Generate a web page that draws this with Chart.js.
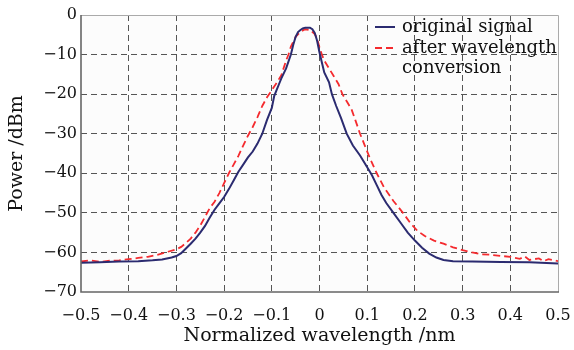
<!DOCTYPE html>
<html>
<head>
<meta charset="utf-8">
<script src="https://cdn.jsdelivr.net/npm/chart.js@4"></script>
<style>
  html, body { margin: 0; padding: 0; background: #fff; }
</style>
</head>
<body>
<canvas id="chart" width="574" height="350"></canvas>
<script>
// axis ticks
const xTicks = [-0.5, -0.4, -0.3, -0.2, -0.1, 0, 0.1, 0.2, 0.3, 0.4, 0.5];
const xTickLabels = ['\u22120.5', '\u22120.4', '\u22120.3', '\u22120.2', '\u22120.1', '0', '0.1', '0.2', '0.3', '0.4', '0.5'];
const yTicks = [0, -10, -20, -30, -40, -50, -60, -70];
const yTickLabels = ['0', '\u221210', '\u221220', '\u221230', '\u221240', '\u221250', '\u221260', '\u221270'];

const seriesLabels = ['original signal', ['after wavelength', 'conversion']];

// original signal
const origX = [-0.50, -0.46, -0.42, -0.38, -0.35, -0.33, -0.31, -0.30, -0.29, -0.28, -0.27, -0.26, -0.25, -0.24, -0.23, -0.22, -0.21, -0.20, -0.19, -0.18, -0.17, -0.16, -0.15, -0.14, -0.13, -0.12, -0.11, -0.10, -0.095, -0.09, -0.085, -0.08, -0.07, -0.06, -0.055, -0.05, -0.045, -0.04, -0.035, -0.03, -0.02, -0.015, -0.01, -0.005, 0.0, 0.005, 0.01, 0.02, 0.026, 0.035, 0.045, 0.057, 0.07, 0.085, 0.10, 0.11, 0.12, 0.13, 0.14, 0.155, 0.17, 0.185, 0.20, 0.215, 0.23, 0.245, 0.26, 0.28, 0.32, 0.38, 0.44, 0.50];
const origY = [-62.6, -62.5, -62.3, -62.2, -62.0, -61.8, -61.3, -60.9, -60.2, -59.0, -57.8, -56.5, -55.0, -53.3, -51.2, -49.2, -47.6, -46.0, -44.0, -41.8, -39.6, -37.8, -36.0, -34.5, -32.5, -30.0, -26.5, -23.5, -20.5, -19.0, -17.5, -16.0, -13.5, -10.0, -7.5, -5.5, -4.3, -3.8, -3.4, -3.2, -3.2, -3.6, -4.5, -6.5, -9.5, -12.0, -14.5, -17.0, -20.0, -23.0, -26.0, -30.0, -33.0, -35.5, -38.5, -40.5, -43.0, -45.5, -47.5, -50.0, -52.5, -55.0, -57.0, -58.8, -60.3, -61.3, -61.9, -62.2, -62.3, -62.4, -62.5, -62.8];

// after wavelength conversion
const convX = [-0.50, -0.48, -0.46, -0.44, -0.42, -0.40, -0.38, -0.36, -0.34, -0.32, -0.30, -0.29, -0.28, -0.27, -0.26, -0.25, -0.24, -0.23, -0.22, -0.21, -0.20, -0.19, -0.18, -0.17, -0.16, -0.15, -0.14, -0.13, -0.12, -0.11, -0.10, -0.09, -0.08, -0.07, -0.065, -0.06, -0.05, -0.04, -0.03, -0.02, -0.01, -0.005, 0.0, 0.005, 0.01, 0.02, 0.03, 0.04, 0.048, 0.058, 0.067, 0.075, 0.085, 0.095, 0.105, 0.12, 0.135, 0.155, 0.175, 0.19, 0.205, 0.22, 0.24, 0.26, 0.28, 0.30, 0.32, 0.34, 0.36, 0.38, 0.40, 0.42, 0.43, 0.44, 0.46, 0.47, 0.48, 0.50];
const convY = [-62.3, -62.0, -62.4, -62.1, -62.0, -61.7, -61.4, -61.1, -60.6, -59.9, -59.2, -58.6, -57.6, -56.5, -55.0, -53.2, -51.0, -48.8, -47.2, -45.0, -42.5, -40.0, -37.8, -35.6, -33.0, -30.5, -28.3, -25.8, -23.0, -20.8, -19.0, -17.2, -15.2, -11.5, -10.0, -8.0, -5.5, -4.2, -3.6, -3.8, -4.8, -6.0, -8.2, -10.0, -11.5, -13.5, -15.5, -17.5, -20.0, -22.0, -23.8, -26.5, -30.0, -33.0, -36.0, -40.0, -43.5, -47.0, -50.0, -52.5, -54.5, -55.8, -57.0, -57.8, -58.7, -59.4, -60.0, -60.5, -60.6, -60.9, -61.1, -61.6, -61.0, -61.9, -61.5, -62.2, -61.7, -62.2];

const toPoints = (xs, ys) => xs.map((x, i) => ({ x: x, y: ys[i] }));

const serif = 'DejaVu Serif';
const gridColor = (ctx) => {
  const v = ctx.tick && ctx.tick.value;
  const s = ctx.scale;
  return (v === s.min || v === s.max) ? 'rgba(0,0,0,0)' : '#555';
};

// background, frame and legend
const framePlugin = {
  id: 'frame',
  beforeDraw(chart) {
    const { ctx, chartArea: a } = chart;
    ctx.save();
    ctx.fillStyle = '#fcfcfc';
    ctx.fillRect(a.left, a.top, a.right - a.left, a.bottom - a.top);
    ctx.restore();
  },
  afterDatasetsDraw(chart) {
    const { ctx, chartArea: a } = chart;
    ctx.save();
    ctx.strokeStyle = '#aaa';
    ctx.lineWidth = 1;
    ctx.beginPath();
    ctx.moveTo(a.left, a.top + 0.5);
    ctx.lineTo(a.right + 0.5, a.top + 0.5);
    ctx.lineTo(a.right + 0.5, a.bottom);
    ctx.stroke();
    ctx.strokeStyle = '#666';
    ctx.lineWidth = 1.6;
    ctx.beginPath();
    ctx.moveTo(a.left, a.top);
    ctx.lineTo(a.left, a.bottom);
    ctx.lineTo(a.right + 1, a.bottom);
    ctx.stroke();

    // legend
    const x0 = a.right - 183;
    const tx = a.right - 156;
    ctx.font = '18px "' + serif + '"';
    ctx.textBaseline = 'middle';
    ctx.fillStyle = '#111';
    let y = a.top + 12;
    chart.data.datasets.forEach((ds) => {
      ctx.strokeStyle = ds.borderColor;
      ctx.lineWidth = ds.borderWidth;
      ctx.setLineDash(ds.borderDash || []);
      ctx.beginPath();
      ctx.moveTo(x0, y);
      ctx.lineTo(x0 + 20, y);
      ctx.stroke();
      ctx.setLineDash([]);
      const lines = Array.isArray(ds.label) ? ds.label : [ds.label];
      lines.forEach((t, j) => ctx.fillText(t, tx, y + j * 20));
      y += 21;
    });
    ctx.restore();
  }
};

new Chart(document.getElementById('chart').getContext('2d'), {
  type: 'scatter',
  data: {
    datasets: [
      {
        label: seriesLabels[0],
        data: toPoints(origX, origY),
        showLine: true,
        borderColor: '#2b2b70',
        borderWidth: 2,
        pointRadius: 0,
        tension: 0,
      },
      {
        label: seriesLabels[1],
        data: toPoints(convX, convY),
        showLine: true,
        borderColor: '#f42a2e',
        borderWidth: 1.8,
        borderDash: [7, 4],
        pointRadius: 0,
        tension: 0,
      },
    ],
  },
  options: {
    responsive: false,
    animation: false,
    layout: { padding: { top: 15, right: 16, left: 0, bottom: 0 } },
    plugins: {
      legend: { display: false },
      tooltip: { enabled: false },
    },
    scales: {
      x: {
        type: 'linear',
        min: -0.5,
        max: 0.5,
        afterBuildTicks: (s) => { s.ticks = xTicks.map((v) => ({ value: v })); },
        afterFit: (s) => { s.height = 58; s.paddingLeft = 0; s.paddingRight = 0; },
        ticks: {
          autoSkip: false,
          maxRotation: 0,
          padding: 14,
          color: '#111',
          font: { family: serif, size: 16 },
          callback: (v, i) => xTickLabels[i],
        },
        grid: { color: gridColor, lineWidth: 1, drawTicks: false },
        border: { display: false, dash: [6, 4] },
        title: {
          display: true,
          text: 'Normalized wavelength /nm',
          color: '#111',
          font: { family: serif, size: 19 },
          padding: { top: 0, bottom: 3 },
        },
      },
      y: {
        type: 'linear',
        min: -70,
        max: 0,
        afterBuildTicks: (s) => { s.ticks = yTicks.map((v) => ({ value: v })); },
        afterFit: (s) => { s.width = 81; },
        ticks: {
          autoSkip: false,
          padding: 4,
          color: '#111',
          font: { family: serif, size: 16 },
          callback: (v, i) => yTickLabels[i],
        },
        grid: { color: gridColor, lineWidth: 1, drawTicks: false },
        border: { display: false, dash: [6, 4] },
        title: {
          display: true,
          text: 'Power /dBm',
          color: '#111',
          font: { family: serif, size: 19 },
          padding: { top: 6, bottom: 0 },
        },
      },
    },
  },
  plugins: [framePlugin],
});
</script>
</body>
</html>
